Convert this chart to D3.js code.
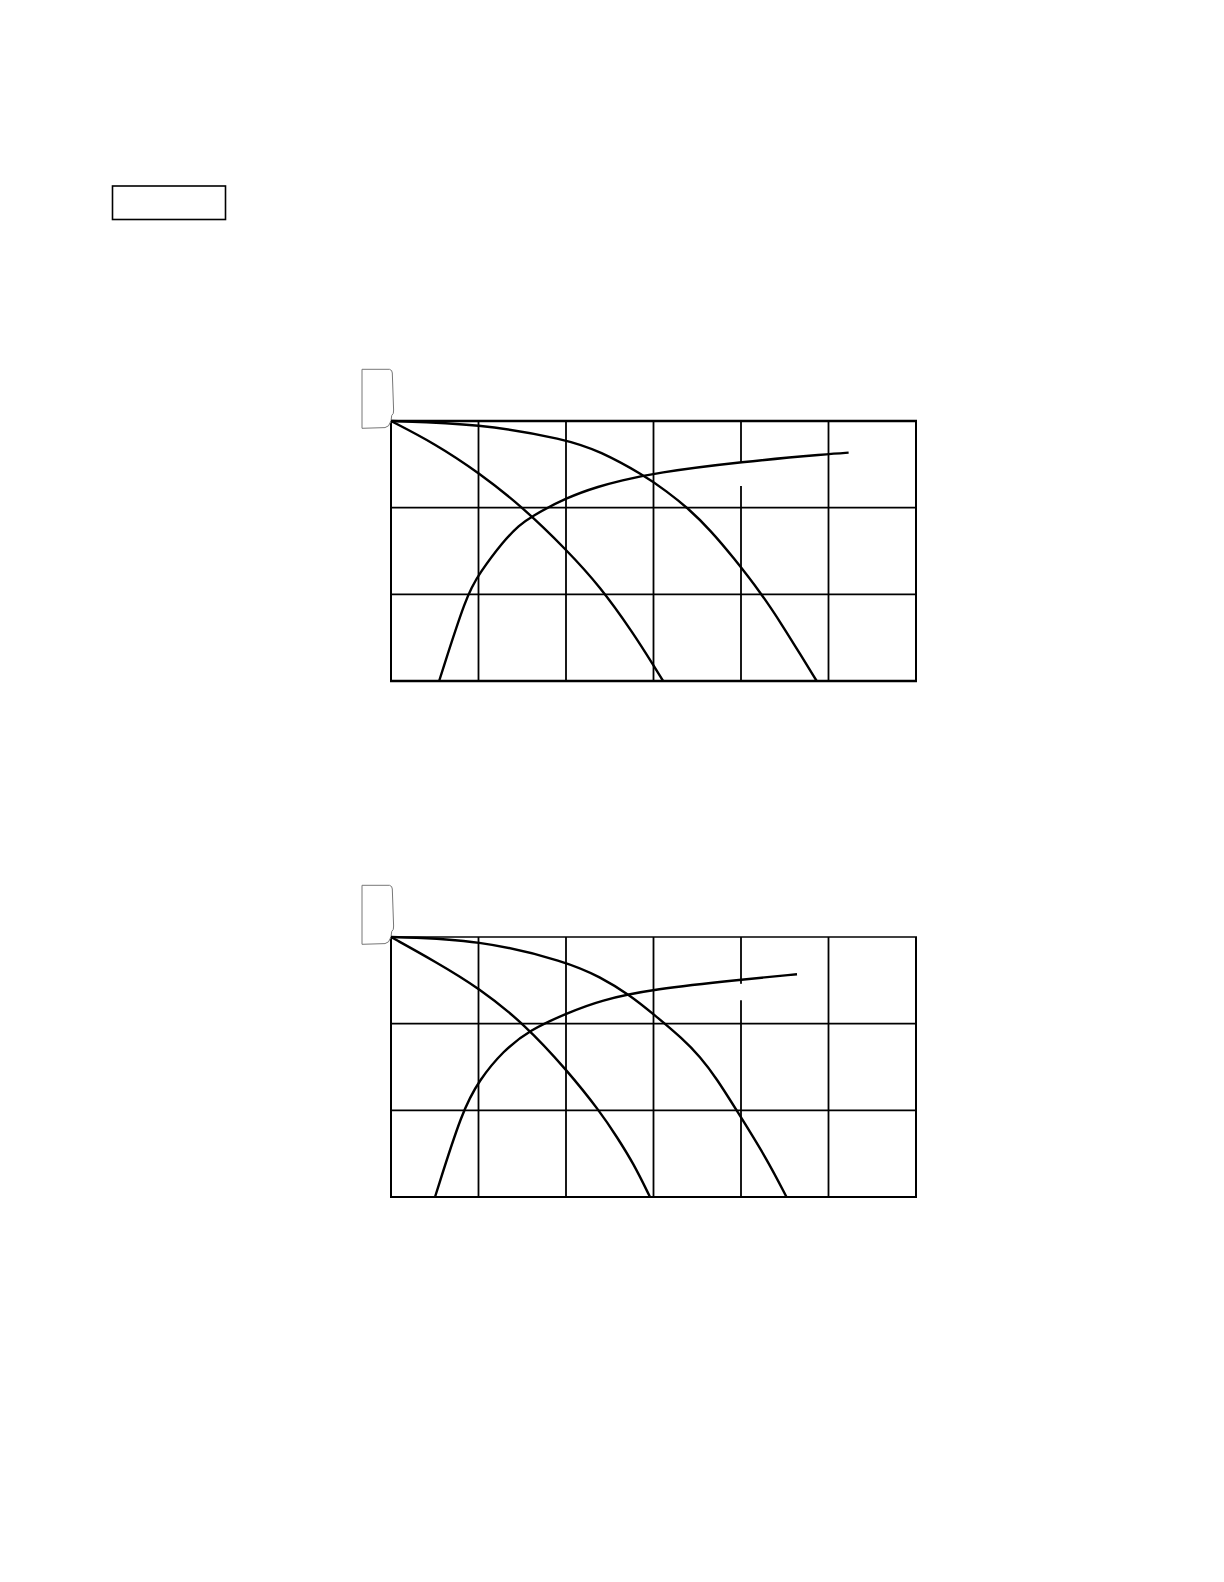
<!DOCTYPE html>
<html>
<head>
<meta charset="utf-8">
<script src="https://cdn.jsdelivr.net/npm/d3@7"></script>
<style>
  body { margin: 0; background: #fff; }
</style>
</head>
<body>
<div class="plots"></div>
<script>
// grid values (flow on x, head / efficiency on y)
var xTicks = [0, 10, 20, 30, 40, 50, 60];
var yTicks = [0, 10, 20, 30];

// upper chart
var headA1 = [[0, 30], [5, 27.4], [10.1, 24.0], [15, 20.1], [20.1, 15.1], [23.9, 10.9], [27.7, 5.5], [30, 1.8], [31.1, 0]];
var headB1 = [[0, 30], [10, 29.7], [20, 27.9], [23.9, 26.5], [28.8, 23.8], [31.5, 21.9], [34, 19.9], [36.5, 17.4], [39.1, 14.3], [42.4, 10.0], [44.8, 6.3], [46.7, 3.2], [48.65, 0]];
var effC1 = [[5.5, 0], [8.65, 10.0], [10.1, 12.4], [12.8, 16.1], [14.7, 18.0], [15.9, 18.9], [20.1, 21.2], [23.9, 22.5], [26.2, 23.1], [30.1, 24.0], [40.1, 25.3], [50.1, 26.2], [52.3, 26.35]];

// lower chart
var headA2 = [[0, 30], [5, 27.2], [10.1, 24.1], [15.3, 19.9], [20.1, 14.65], [23.9, 9.85], [25.8, 6.95], [27.7, 3.9], [29.6, 0]];
var headB2 = [[0, 30], [10.1, 29.7], [20.1, 27.15], [23.9, 25.4], [27.3, 23.3], [30, 21.1], [33.4, 18.2], [35.3, 16.2], [37.2, 13.7], [39.5, 10.0], [42.9, 4.5], [45.2, 0]];
var effC2 = [[5.03, 0], [8.15, 10.0], [10.1, 13.5], [12.8, 16.85], [15.9, 19.3], [20.1, 21.2], [23.9, 22.7], [30, 24.0], [40.1, 25.1], [46.4, 25.7]];

// gap left in the x=40 grid line (where a label used to sit)
var gap1 = [22.5, 25.2];
var gap2 = [22.7, 24.6];

var W = 1224, H = 1582;

var svg = d3.select(".plots")
    .append("svg")
    .attr("width", W)
    .attr("height", H)
    .style("display", "block");

svg.append("rect")
    .attr("width", W)
    .attr("height", H)
    .attr("fill", "#fff");

// little empty box top left
svg.append("rect")
    .attr("x", 112.5)
    .attr("y", 186)
    .attr("width", 113)
    .attr("height", 33.5)
    .attr("fill", "none")
    .attr("stroke", "#000")
    .attr("stroke-width", 1.6);

function drawChart(top, series, gap, borders) {
    var left = 391, right = 916, height = 260;

    var x = d3.scaleLinear()
        .domain([0, 60])
        .range([left, right]);

    var y = d3.scaleLinear()
        .domain([0, 30])
        .range([top + height, top]);

    var g = svg.append("g");

    // vertical grid
    g.selectAll(".vgrid")
        .data(xTicks)
        .enter()
        .append("line")
        .attr("class", "vgrid")
        .attr("x1", d => x(d))
        .attr("x2", d => x(d))
        .attr("y1", y(0))
        .attr("y2", y(30))
        .attr("stroke", "#000")
        .attr("stroke-width", d => (d == 0 || d == 60) ? 2 : 1.8);

    // horizontal grid
    g.selectAll(".hgrid")
        .data(yTicks)
        .enter()
        .append("line")
        .attr("class", "hgrid")
        .attr("x1", x(0) - 1)
        .attr("x2", x(60) + 1)
        .attr("y1", d => y(d))
        .attr("y2", d => y(d))
        .attr("stroke", "#000")
        .attr("stroke-width", d => d == 0 ? borders.bottom : (d == 30 ? borders.top : 1.8));

    // break in the x=40 line
    g.append("rect")
        .attr("x", x(40) - 2)
        .attr("y", y(gap[1]))
        .attr("width", 4)
        .attr("height", y(gap[0]) - y(gap[1]))
        .attr("fill", "#fff");

    // label frame left of the origin
    var ox = x(0), oy = y(30);
    var p = d3.path();
    p.moveTo(ox - 29, oy - 51.7);
    p.lineTo(ox - 1.5, oy - 51.7);
    p.quadraticCurveTo(ox + 1.3, oy - 51, ox + 1.3, oy - 48);
    p.lineTo(ox + 2.6, oy - 11);
    p.quadraticCurveTo(ox + 3, oy - 7, ox + 0.7, oy - 5.5);
    p.lineTo(ox, oy);
    p.quadraticCurveTo(ox - 2, oy + 6.3, ox - 6, oy + 6.6);
    p.lineTo(ox - 29, oy + 7.3);
    p.closePath();
    g.append("path")
        .attr("d", p.toString())
        .attr("fill", "#fff")
        .attr("stroke", "#777")
        .attr("stroke-width", 1);

    // basis smoothing irons out the reading noise in the points
    var line = d3.line()
        .x(d => x(d[0]))
        .y(d => y(d[1]))
        .curve(d3.curveBasis);

    g.selectAll(".curve")
        .data(series)
        .enter()
        .append("path")
        .attr("class", "curve")
        .attr("d", line)
        .attr("fill", "none")
        .attr("stroke", "#000")
        .attr("stroke-width", 2.4)
        .attr("stroke-linecap", "butt");
}

drawChart(421, [headA1, headB1, effC1], gap1, {top: 2.5, bottom: 2.7});
drawChart(937, [headA2, headB2, effC2], gap2, {top: 1.7, bottom: 2.1});
</script>
</body>
</html>
